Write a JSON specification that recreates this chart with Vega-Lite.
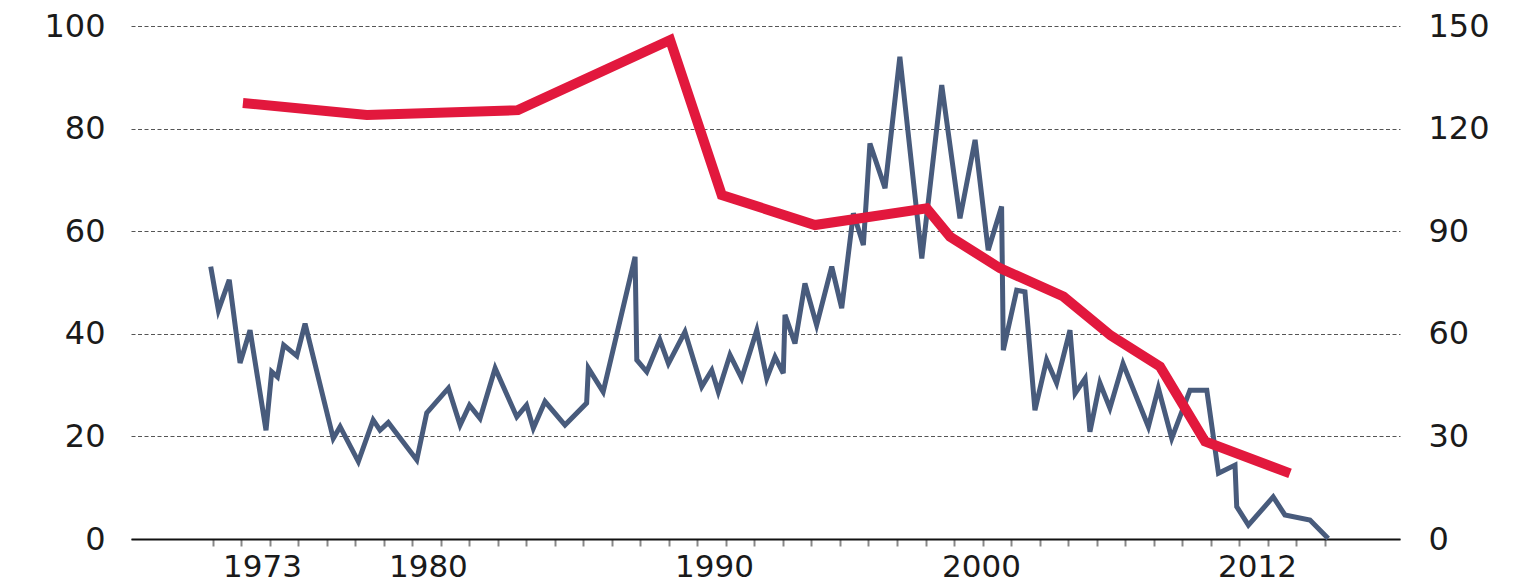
{
  "$schema": "https://vega.github.io/schema/vega-lite/v6.json",
  "autosize": {"type": "none"},
  "padding": {"left": 131, "top": 26, "right": 129, "bottom": 45},
  "width": 1269,
  "height": 513,
  "background": "white",
  "config": {
    "view": {"stroke": null},
    "axis": {"labelFont": "DejaVu Sans", "labelFontSize": 32, "labelColor": "#1a1a1a", "title": null}
  },
  "datasets": {
    "blue": [
      {"year": 1972.92, "value": 53.1}, {"year": 1973.19, "value": 44.6}, {"year": 1973.57, "value": 50.5},
      {"year": 1973.95, "value": 34.3}, {"year": 1974.3, "value": 40.7}, {"year": 1974.86, "value": 21.2},
      {"year": 1975.06, "value": 32.6}, {"year": 1975.26, "value": 31.6}, {"year": 1975.48, "value": 37.8},
      {"year": 1975.94, "value": 35.7}, {"year": 1976.23, "value": 42.0}, {"year": 1977.22, "value": 19.6},
      {"year": 1977.46, "value": 21.9}, {"year": 1978.1, "value": 15.1}, {"year": 1978.62, "value": 23.2},
      {"year": 1978.86, "value": 21.2}, {"year": 1979.15, "value": 22.7}, {"year": 1980.15, "value": 15.4},
      {"year": 1980.5, "value": 24.6}, {"year": 1981.26, "value": 29.4}, {"year": 1981.67, "value": 22.2},
      {"year": 1982.0, "value": 26.1}, {"year": 1982.37, "value": 23.5}, {"year": 1982.9, "value": 33.3},
      {"year": 1983.66, "value": 23.8}, {"year": 1984.0, "value": 26.1}, {"year": 1984.24, "value": 21.6},
      {"year": 1984.65, "value": 26.8}, {"year": 1985.35, "value": 22.2}, {"year": 1986.11, "value": 26.5},
      {"year": 1986.17, "value": 33.3}, {"year": 1986.69, "value": 28.7}, {"year": 1987.81, "value": 55.0},
      {"year": 1987.87, "value": 34.9}, {"year": 1988.22, "value": 32.6}, {"year": 1988.68, "value": 38.8},
      {"year": 1988.98, "value": 34.2}, {"year": 1989.56, "value": 40.4}, {"year": 1990.15, "value": 29.7},
      {"year": 1990.5, "value": 32.9}, {"year": 1990.73, "value": 28.7}, {"year": 1991.14, "value": 35.9},
      {"year": 1991.55, "value": 31.3}, {"year": 1992.08, "value": 40.7}, {"year": 1992.43, "value": 31.3},
      {"year": 1992.72, "value": 35.5}, {"year": 1993.01, "value": 32.3}, {"year": 1993.07, "value": 43.7},
      {"year": 1993.42, "value": 38.1}, {"year": 1993.77, "value": 49.8}, {"year": 1994.18, "value": 41.7},
      {"year": 1994.71, "value": 53.1}, {"year": 1995.06, "value": 45.0}, {"year": 1995.47, "value": 63.5},
      {"year": 1995.82, "value": 57.3}, {"year": 1996.05, "value": 77.1}, {"year": 1996.58, "value": 68.4},
      {"year": 1997.1, "value": 94.0}, {"year": 1997.87, "value": 54.7}, {"year": 1998.57, "value": 88.5},
      {"year": 1999.21, "value": 62.5}, {"year": 1999.74, "value": 77.8}, {"year": 2000.2, "value": 56.3},
      {"year": 2000.67, "value": 64.8}, {"year": 2000.73, "value": 36.8}, {"year": 2001.2, "value": 48.5},
      {"year": 2001.49, "value": 48.2}, {"year": 2001.84, "value": 25.1}, {"year": 2002.25, "value": 34.9},
      {"year": 2002.6, "value": 30.4}, {"year": 2003.07, "value": 40.7}, {"year": 2003.25, "value": 28.4},
      {"year": 2003.6, "value": 31.3}, {"year": 2003.77, "value": 20.9}, {"year": 2004.12, "value": 30.4},
      {"year": 2004.47, "value": 25.5}, {"year": 2004.93, "value": 34.2}, {"year": 2005.82, "value": 21.9},
      {"year": 2006.17, "value": 29.4}, {"year": 2006.64, "value": 19.6}, {"year": 2007.28, "value": 29.0},
      {"year": 2007.87, "value": 29.0}, {"year": 2008.28, "value": 12.8}, {"year": 2008.86, "value": 14.4},
      {"year": 2008.92, "value": 6.3}, {"year": 2009.33, "value": 2.7}, {"year": 2010.2, "value": 8.2},
      {"year": 2010.61, "value": 4.7}, {"year": 2011.49, "value": 3.7}, {"year": 2012.13, "value": 0.1}
    ],
    "red": [
      {"year": 1974.05, "value": 127.5}, {"year": 1978.4, "value": 124.0}, {"year": 1983.7, "value": 125.4},
      {"year": 1989.04, "value": 145.9}, {"year": 1990.85, "value": 100.6}, {"year": 1994.12, "value": 91.8},
      {"year": 1998.04, "value": 96.7}, {"year": 1998.86, "value": 88.4}, {"year": 2000.61, "value": 79.2},
      {"year": 2002.84, "value": 70.9}, {"year": 2004.5, "value": 59.5}, {"year": 2006.23, "value": 50.4},
      {"year": 2007.81, "value": 28.5}, {"year": 2010.79, "value": 19.2}
    ]
  },
  "layer": [
    {
      "data": {"name": "blue"},
      "mark": {"type": "line", "color": "#485b7c", "strokeWidth": 5},
      "encoding": {
        "x": {
          "field": "year", "type": "quantitative",
          "scale": {"domain": [1970.123, 2014.649], "nice": false, "zero": false},
          "axis": {
            "values": [1973,1974,1975,1976,1977,1978,1979,1980,1981,1982,1983,1984,1985,1986,1987,1988,1989,1990,1991,1992,1993,1994,1995,1996,1997,1998,1999,2000,2001,2002,2003,2004,2005,2006,2007,2008,2009,2010,2011,2012,1974.72,1980.54,1990.58,1999.95,2009.63],
            "labelExpr": "datum.value % 1 == 0 ? '' : datum.value < 1977 ? '1973' : datum.value < 1985 ? '1980' : datum.value < 1995 ? '1990' : datum.value < 2005 ? '2000' : '2012'",
            "tickOpacity": {"condition": {"test": "datum.value % 1 == 0", "value": 1}, "value": 0},
            "tickSize": 7, "tickColor": "#888", "tickWidth": 2,
            "domainColor": "#111", "domainWidth": 2,
            "labelPadding": 6, "labelFontSize": 31, "grid": false, "title": null,
            "labelOverlap": false, "labelFlush": false, "labelBound": false
          }
        },
        "y": {
          "field": "value", "type": "quantitative",
          "scale": {"domain": [0, 100], "nice": false},
          "axis": {
            "orient": "left", "values": [0, 20, 40, 60, 80, 100],
            "grid": true, "gridColor": "#555", "gridDash": [4, 2.5], "gridWidth": 1,
            "domain": false, "ticks": false, "tickSize": 0, "labelPadding": 26, "title": null
          }
        }
      }
    },
    {
      "data": {"name": "red"},
      "mark": {"type": "line", "color": "#e2183d", "strokeWidth": 10},
      "encoding": {
        "x": {
          "field": "year", "type": "quantitative",
          "scale": {"domain": [1970.123, 2014.649], "nice": false, "zero": false},
          "axis": {
            "values": [1973,1974,1975,1976,1977,1978,1979,1980,1981,1982,1983,1984,1985,1986,1987,1988,1989,1990,1991,1992,1993,1994,1995,1996,1997,1998,1999,2000,2001,2002,2003,2004,2005,2006,2007,2008,2009,2010,2011,2012,1974.72,1980.54,1990.58,1999.95,2009.63],
            "labelExpr": "datum.value % 1 == 0 ? '' : datum.value < 1977 ? '1973' : datum.value < 1985 ? '1980' : datum.value < 1995 ? '1990' : datum.value < 2005 ? '2000' : '2012'",
            "tickOpacity": {"condition": {"test": "datum.value % 1 == 0", "value": 1}, "value": 0},
            "tickSize": 7, "tickColor": "#888", "tickWidth": 2,
            "domainColor": "#111", "domainWidth": 2,
            "labelPadding": 6, "labelFontSize": 31, "grid": false, "title": null,
            "labelOverlap": false, "labelFlush": false, "labelBound": false
          }
        },
        "y": {
          "field": "value", "type": "quantitative",
          "scale": {"domain": [0, 150], "nice": false},
          "axis": {
            "orient": "right", "values": [0, 30, 60, 90, 120, 150],
            "grid": false, "domain": false, "ticks": false, "tickSize": 0,
            "labelPadding": 28, "title": null
          }
        }
      }
    }
  ],
  "resolve": {"scale": {"y": "independent"}, "axis": {"y": "independent"}}
}
